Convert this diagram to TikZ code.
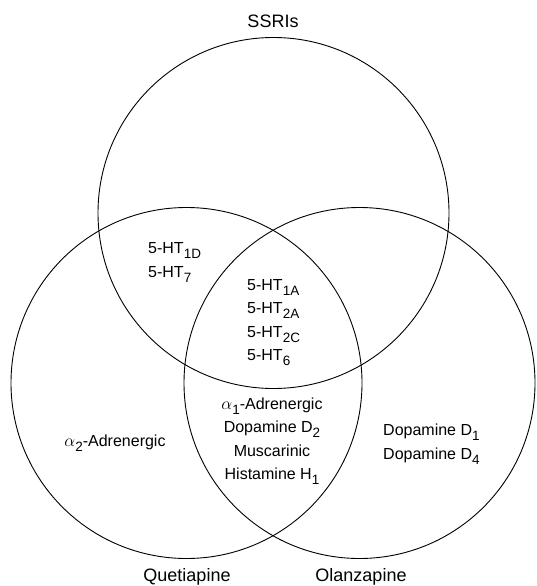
\documentclass[tikz,border=0pt]{standalone}
\usepackage{fontspec}
\setmainfont{Liberation Sans}
\usetikzlibrary{positioning}
\newcommand{\lowr}[1]{\raisebox{-5pt}{\fontsize{13.5}{13.5}\selectfont #1}}

\begin{document}
\begin{tikzpicture}[x=1pt, y=-1pt,
		ring/.style={line width=0.9pt},
		setname/.style={font=\fontsize{18}{18}\selectfont, inner sep=0pt},
		entries/.style={font=\fontsize{16}{23.5}\selectfont, inner sep=0pt}]

			\useasboundingbox (0,0) rectangle (536,586);

			\begin{scope}
				\draw[ring] (273.5,213) circle (175.5pt);
				\draw[ring] (186.5,383) circle (175.5pt);
				\draw[ring] (359.5,383) circle (175.5pt);
			\end{scope}

			\node[setname, anchor=base] (ssri) at (273,27.5) {SSRIs};
			\node[setname, anchor=base] (quet) at (187,581.5) {Quetiapine};
			\node[setname, anchor=base] (olan) at (361,581.5) {Olanzapine};

			\node[entries, anchor=north west, align=left] (ssriquet) at (148,242.5)
				{5-HT\lowr{1D}\\5-HT\lowr{7}};
			\node[entries, anchor=north west, align=left] (allthree) at (247,279)
				{5-HT\lowr{1A}\\5-HT\lowr{2A}\\5-HT\lowr{2C}\\5-HT\lowr{6}};
			\node[entries, anchor=north, align=center] (quetolan) at (272,397.5)
				{$\alpha$\lowr{1}-Adrenergic\\Dopamine D\lowr{2}\\Muscarinic\\Histamine H\lowr{1}};
			\node[entries, anchor=base] (quetonly) at (115,446.5)
				{$\alpha$\lowr{2}-Adrenergic};
			\node[entries, anchor=north west, align=left] (olanonly) at (383,424)
				{Dopamine D\lowr{1}\\Dopamine D\lowr{4}};
		\end{tikzpicture}
\end{document}
